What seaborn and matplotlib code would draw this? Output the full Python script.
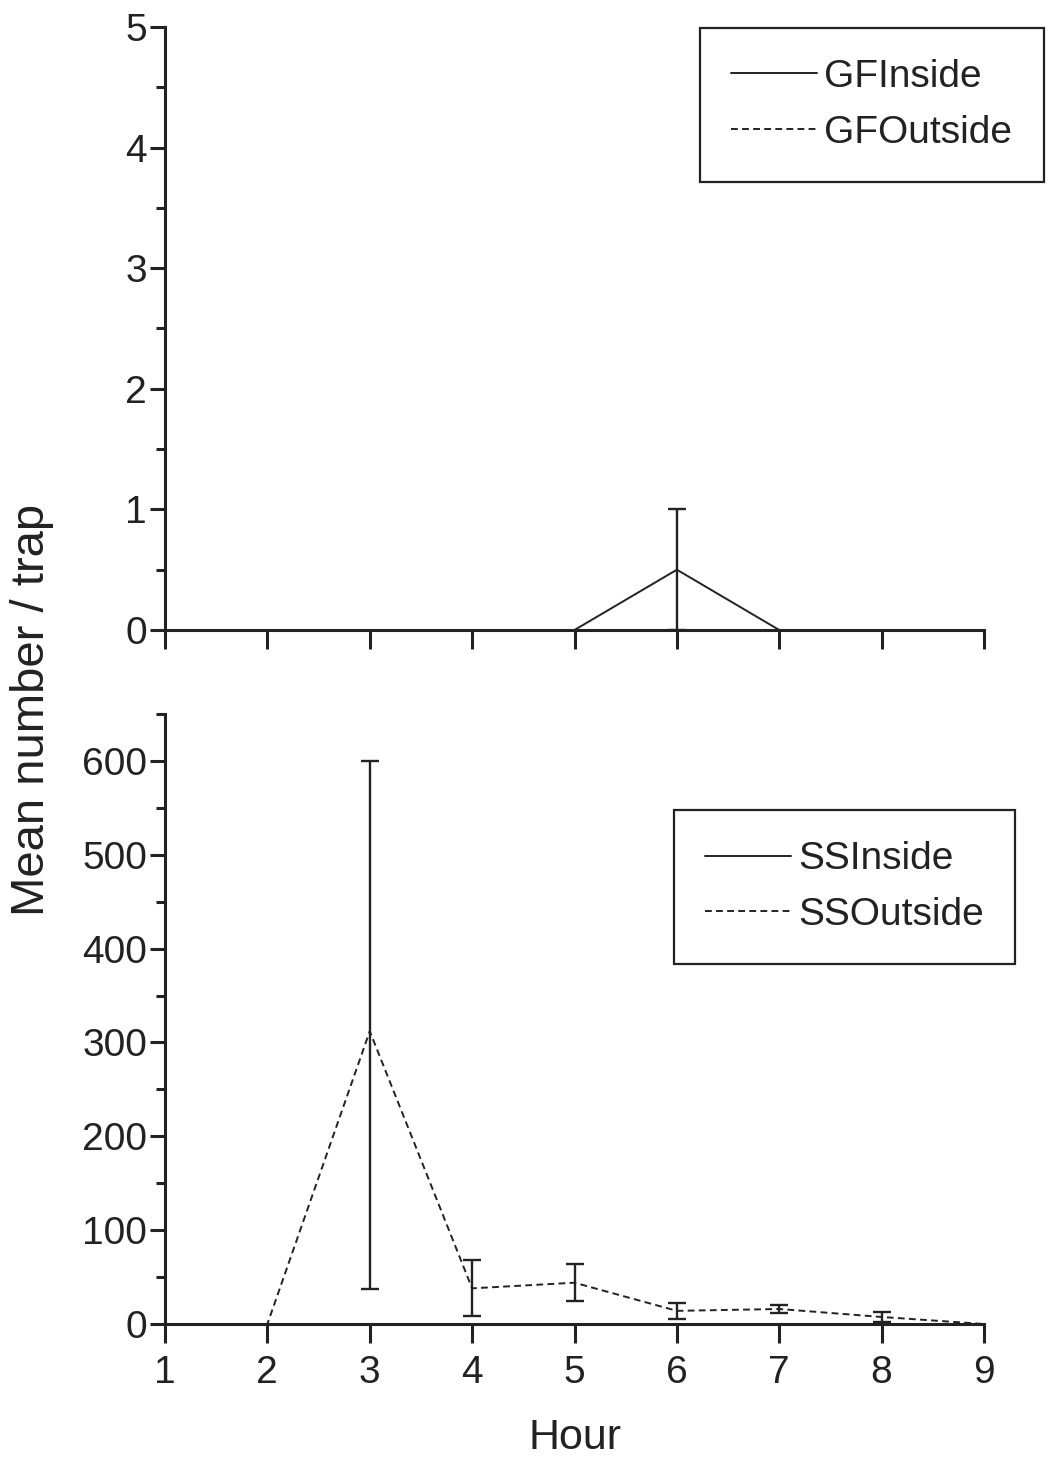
import matplotlib
matplotlib.use("Agg")
import matplotlib.pyplot as plt
from matplotlib import font_manager
from matplotlib.ticker import MultipleLocator
import seaborn as sns
import pandas as pd
import numpy as np

# ---- data ----
hours = [1, 2, 3, 4, 5, 6, 7, 8, 9]
gf_inside = [0, 0, 0, 0, 0, 0.5, 0, 0, 0]
gf_outside = [0, 0, 0, 0, 0, 0, 0, 0, 0]
gf_inside_err_low = [0, 0, 0, 0, 0, 0.5, 0, 0, 0]
gf_inside_err_high = [0, 0, 0, 0, 0, 0.5, 0, 0, 0]
ss_inside = [0, 0, 0, 0, 0, 0, 0, 0, 0]
ss_outside = [0, 0, 312, 38, 44, 14, 16, 7.5, 0]
ss_outside_err_low = [0, 0, 275, 30, 20, 9, 4, 5, 0]
ss_outside_err_high = [0, 0, 288, 30, 20, 8.5, 4.5, 5.5, 0]
err_hours_gf = [6]
err_hours_ss = [3, 4, 5, 6, 7, 8]

sns.set_theme(style="white")
avail = {f.name for f in font_manager.fontManager.ttflist}
fam = ["Liberation Sans Narrow"] if "Liberation Sans Narrow" in avail else []
fam += ["Liberation Sans", "DejaVu Sans"]
plt.rcParams["font.family"] = fam

INK = "#222222"
W, H = 1050, 1467
fig = plt.figure(figsize=(W / 100, H / 100), dpi=100)
ax1 = fig.add_axes([165 / W, 1 - 630 / H, 819 / W, 603 / H])
ax2 = fig.add_axes([165 / W, 1 - 1324 / H, 819 / W, 610 / H])

lw = 1.4
dash = (3.5, 2.2)

df_gf = pd.DataFrame({"Hour": hours, "GFInside": gf_inside, "GFOutside": gf_outside})
df_ss = pd.DataFrame({"Hour": hours, "SSInside": ss_inside, "SSOutside": ss_outside})

sns.lineplot(data=df_gf, x="Hour", y="GFOutside", ax=ax1, color=INK, lw=lw,
             label="GFOutside", legend=False)
ax1.lines[-1].set_dashes(dash)
sns.lineplot(data=df_gf, x="Hour", y="GFInside", ax=ax1, color=INK, lw=lw,
             label="GFInside", legend=False)

sns.lineplot(data=df_ss, x="Hour", y="SSOutside", ax=ax2, color=INK, lw=lw,
             label="SSOutside", legend=False)
ax2.lines[-1].set_dashes(dash)
sns.lineplot(data=df_ss, x="Hour", y="SSInside", ax=ax2, color=INK, lw=lw,
             label="SSInside", legend=False)

# error bars
idx = [hours.index(h) for h in err_hours_gf]
ax1.errorbar([hours[i] for i in idx], [gf_inside[i] for i in idx],
             yerr=[[gf_inside_err_low[i] for i in idx], [gf_inside_err_high[i] for i in idx]],
             fmt="none", ecolor=INK, elinewidth=1.7, capsize=6.5, capthick=1.7)
idx = [hours.index(h) for h in err_hours_ss]
ax2.errorbar([hours[i] for i in idx], [ss_outside[i] for i in idx],
             yerr=[[ss_outside_err_low[i] for i in idx], [ss_outside_err_high[i] for i in idx]],
             fmt="none", ecolor=INK, elinewidth=1.7, capsize=6.5, capthick=1.7)

for ax, ymax, major, minor in [(ax1, 5, 1, 0.5), (ax2, 650, 100, 50)]:
    ax.set_xlim(1, 9)
    ax.set_ylim(0, ymax)
    ax.set_facecolor("white")
    for s in ["top", "right"]:
        ax.spines[s].set_visible(False)
    for s in ["left", "bottom"]:
        ax.spines[s].set_color(INK)
        ax.spines[s].set_linewidth(2.2)
    ax.xaxis.set_major_locator(MultipleLocator(1))
    ax.yaxis.set_major_locator(MultipleLocator(major))
    ax.yaxis.set_minor_locator(MultipleLocator(minor))
    ax.tick_params(axis="y", which="major", direction="out", length=11, width=2.2,
                   color=INK, labelsize=28, pad=2, labelcolor=INK, left=True)
    ax.tick_params(axis="y", which="minor", direction="out", length=6.5, width=2.2,
                   color=INK, left=True)
    ax.tick_params(axis="x", which="major", direction="out", length=14, width=2.2,
                   color=INK, labelsize=28, pad=8, labelcolor=INK, bottom=True)
    ax.set_xlabel("")
    ax.set_ylabel("")
    ax.grid(False)

ax1.tick_params(axis="x", labelbottom=False)
ax2.set_xlabel("Hour", fontsize=31, color=INK, labelpad=20)
fig.text(32 / W, 1 - 710 / H, "Mean number / trap", rotation=90, fontsize=34,
         color=INK, ha="center", va="center")

def make_legend(ax, names, anchor):
    handles = []
    for n in names:
        for ln in ax.lines:
            if ln.get_label() == n:
                handles.append(ln)
    leg = ax.legend(handles=handles, labels=names, loc="upper left",
                    bbox_to_anchor=anchor, bbox_transform=fig.transFigure,
                    fontsize=28, frameon=True, fancybox=False, handlelength=2.2,
                    handletextpad=0.2, borderpad=0.8, labelspacing=0.5,
                    borderaxespad=0)
    fr = leg.get_frame()
    fr.set_edgecolor(INK)
    fr.set_linewidth(1.6)
    fr.set_facecolor("white")
    fr.set_alpha(1)
    for t in leg.get_texts():
        t.set_color(INK)
    return leg

make_legend(ax1, ["GFInside", "GFOutside"], (700 / W, 1 - 28 / H))
make_legend(ax2, ["SSInside", "SSOutside"], (674 / W, 1 - 810 / H))

fig.savefig("out.png", dpi=100, facecolor="white")
